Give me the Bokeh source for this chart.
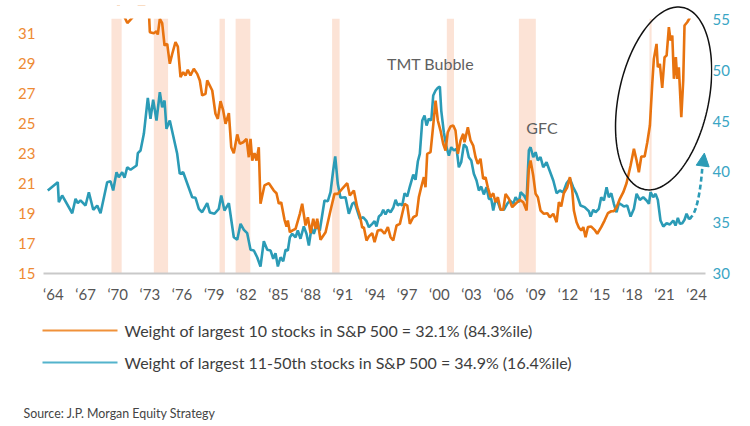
import numpy as np
from bokeh.plotting import figure
from bokeh.models import Range1d, LinearAxis, FixedTicker, Label, Arrow, NormalHead, PolyAnnotation
from bokeh.core.properties import value
from bokeh.embed import file_html
from bokeh.resources import INLINE

# ---------------- data ----------------
tick_years = [1964, 1967, 1970, 1973, 1976, 1979, 1982, 1985, 1988, 1991, 1994,
              1997, 2000, 2003, 2006, 2009, 2012, 2015, 2018, 2021, 2024]
tick_labels = ["\u201864", "\u201867", "\u201870", "\u201873", "\u201876", "\u201879", "\u201882",
               "\u201885", "\u201888", "\u201891", "\u201894", "\u201897", "\u201800", "\u201803",
               "\u201806", "\u201809", "\u201812", "\u201815", "\u201818", "\u201821", "\u201824"]
left_ticks = [15, 17, 19, 21, 23, 25, 27, 29, 31]
right_ticks = [30, 35, 40, 45, 50, 55]

rec_start = [1969.92, 1973.87, 1980.00, 1981.50, 1990.50, 2001.20, 2007.92, 2020.10]
rec_end = [1970.87, 1975.20, 1980.50, 1982.87, 1991.20, 2001.87, 2009.50, 2020.30]

blue_year = [
    1963.98, 1964.91, 1965.01, 1965.32, 1966.26, 1966.57, 1966.78, 1967.03, 1967.50, 1967.81,
    1968.22, 1968.59, 1968.90, 1969.52, 1969.83, 1970.08, 1970.39, 1970.60, 1970.92, 1971.14,
    1971.39, 1971.70, 1972.26, 1972.38, 1972.63, 1972.94, 1973.31, 1973.56, 1973.81, 1974.12,
    1974.43, 1974.65, 1974.87, 1975.05, 1975.36, 1976.05, 1976.29, 1976.61, 1977.45, 1977.76,
    1978.07, 1978.38, 1978.85, 1979.10, 1979.53, 1979.93, 1980.16, 1980.46, 1980.87, 1981.33,
    1981.65, 1981.96, 1982.27, 1982.58, 1982.89, 1983.20, 1983.51, 1983.82, 1984.13, 1984.45,
    1984.76, 1985.01, 1985.22, 1985.44, 1985.69, 1985.94, 1986.16, 1986.37, 1986.56, 1986.78,
    1987.09, 1987.30, 1987.55, 1987.86, 1988.11, 1988.33, 1988.58, 1988.79, 1989.05, 1989.35,
    1989.79, 1990.10, 1990.35, 1990.60, 1990.79, 1991.03, 1991.28, 1991.75, 1992.06, 1992.38,
    1992.59, 1993.09, 1993.40, 1993.71, 1993.93, 1994.24, 1994.46, 1994.64, 1994.86, 1995.08,
    1995.27, 1995.48, 1995.70, 1995.95, 1996.20, 1996.42, 1996.63, 1996.82, 1997.04, 1997.26,
    1997.51, 1997.75, 1998.07, 1998.28, 1998.50, 1998.68, 1998.91, 1999.12, 1999.31, 1999.52,
    1999.75, 1999.93, 2000.15, 2000.36, 2000.55, 2000.68, 2000.92, 2001.17, 2001.39, 2001.61,
    2001.86, 2002.11, 2002.32, 2002.54, 2002.79, 2003.04, 2003.25, 2003.48, 2003.72, 2003.97,
    2004.19, 2004.41, 2004.65, 2004.90, 2005.12, 2005.34, 2005.53, 2005.74, 2005.96, 2006.21,
    2006.52, 2006.83, 2007.08, 2007.40, 2007.61, 2007.92, 2008.08, 2008.39, 2008.64, 2008.85,
    2009.01, 2009.26, 2009.48, 2009.69, 2009.94, 2010.19, 2010.50, 2010.81, 2011.13, 2011.44,
    2011.74, 2012.06, 2012.37, 2012.68, 2012.99, 2013.30, 2013.67, 2014.05, 2014.45, 2014.61,
    2014.86, 2015.07, 2015.38, 2015.60, 2015.85, 2016.10, 2016.31, 2016.54, 2016.78, 2017.03,
    2017.25, 2017.47, 2017.71, 2018.03, 2018.34, 2018.65, 2018.90, 2019.20, 2019.52, 2019.83,
    2020.05, 2020.20, 2020.45, 2020.67, 2020.88, 2021.13, 2021.39, 2021.70, 2022.00, 2022.32,
    2022.53, 2022.75, 2022.94, 2023.16, 2023.37, 2023.56, 2023.78, 2024.00]
blue_val = [
    38.17, 38.99, 37.02, 37.68, 35.93, 37.35, 36.92, 37.19, 36.69, 38.00,
    36.27, 36.69, 35.93, 38.99, 39.08, 38.17, 39.97, 39.48, 39.97, 39.42,
    40.46, 40.21, 40.63, 41.84, 42.11, 43.75, 47.29, 45.23, 47.10, 45.06,
    47.84, 46.37, 47.03, 44.24, 45.06, 41.78, 39.81, 39.97, 37.51, 37.45,
    36.37, 36.03, 36.92, 36.00, 35.88, 36.37, 37.68, 36.20, 36.92, 33.57,
    33.32, 34.89, 34.30, 33.97, 32.33, 32.26, 31.60, 30.69, 33.18, 32.33,
    32.26, 31.45, 32.00, 30.69, 31.60, 31.21, 32.33, 32.26, 33.57, 33.91,
    33.57, 34.23, 33.42, 34.63, 33.91, 32.76, 34.50, 33.91, 34.72, 34.23,
    37.19, 37.12, 38.00, 40.14, 41.52, 38.83, 37.45, 37.51, 35.88, 36.86,
    37.02, 35.38, 35.54, 35.15, 34.56, 34.89, 35.15, 34.63, 35.61, 35.81,
    36.27, 35.81, 36.27, 36.03, 36.47, 37.25, 36.69, 36.86, 36.69, 37.90,
    37.58, 38.56, 39.74, 39.22, 41.05, 41.78, 45.06, 45.55, 44.57, 45.23,
    45.06, 47.52, 48.01, 48.28, 48.41, 46.04, 43.91, 42.43, 41.61, 42.43,
    42.11, 42.27, 40.46, 40.95, 42.70, 42.43, 41.45, 41.12, 39.81, 39.15,
    38.17, 38.56, 37.78, 38.49, 37.35, 37.35, 36.20, 37.25, 37.02, 36.27,
    36.27, 36.86, 37.19, 36.86, 37.51, 37.02, 38.00, 37.68, 37.19, 42.11,
    42.43, 41.45, 41.94, 41.12, 41.45, 40.46, 40.95, 40.07, 39.15, 37.90,
    38.17, 38.00, 38.89, 39.32, 38.49, 37.84, 36.69, 36.53, 36.13, 35.61,
    36.27, 36.03, 36.37, 37.51, 37.19, 38.49, 37.51, 37.90, 36.86, 36.03,
    36.92, 36.79, 36.59, 36.69, 35.61, 36.37, 37.84, 37.25, 37.51, 37.19,
    36.86, 38.00, 37.51, 37.84, 37.25, 35.22, 34.63, 34.95, 34.82, 35.22,
    34.72, 35.48, 34.89, 34.95, 35.29, 35.88, 35.38, 35.48]

orange_year = [
    1964.00, 1966.00, 1968.00, 1970.00, 1970.80, 1971.40, 1971.85, 1972.60, 1973.40, 1973.50,
    1973.87, 1974.12, 1974.24, 1974.43, 1974.65, 1974.87, 1975.12, 1975.36, 1975.59, 1975.89,
    1976.11, 1976.36, 1976.61, 1976.83, 1977.04, 1977.29, 1977.60, 1977.92, 1978.16, 1978.38,
    1978.69, 1978.85, 1979.32, 1979.62, 1979.84, 1980.09, 1980.34, 1980.56, 1980.87, 1981.09,
    1981.33, 1981.65, 1981.89, 1982.21, 1982.52, 1982.73, 1982.89, 1983.05, 1983.26, 1983.45,
    1983.66, 1983.82, 1984.19, 1984.60, 1985.06, 1985.31, 1985.53, 1985.75, 1986.06, 1986.25,
    1986.37, 1986.56, 1986.81, 1987.09, 1987.49, 1987.71, 1988.02, 1988.24, 1988.49, 1988.74,
    1988.95, 1989.11, 1989.42, 1989.89, 1990.35, 1990.72, 1991.03, 1991.35, 1991.91, 1992.15,
    1992.53, 1992.84, 1993.09, 1993.31, 1993.46, 1993.71, 1993.93, 1994.24, 1994.46, 1994.76,
    1995.08, 1995.39, 1995.70, 1995.95, 1996.20, 1996.51, 1996.82, 1997.04, 1997.26, 1997.51,
    1997.75, 1998.07, 1998.38, 1998.59, 1998.81, 1999.06, 1999.21, 1999.37, 1999.68, 1999.93,
    2000.15, 2000.36, 2000.61, 2000.86, 2001.08, 2001.29, 2001.54, 2001.80, 2002.01, 2002.23,
    2002.48, 2002.73, 2002.85, 2003.16, 2003.41, 2003.66, 2003.88, 2004.09, 2004.34, 2004.59,
    2004.81, 2005.02, 2005.28, 2005.53, 2005.74, 2005.96, 2006.21, 2006.46, 2006.68, 2006.99,
    2007.30, 2007.61, 2008.01, 2008.33, 2008.64, 2008.85, 2009.01, 2009.26, 2009.48, 2009.69,
    2009.94, 2010.25, 2010.57, 2010.81, 2011.13, 2011.44, 2011.65, 2011.87, 2012.11, 2012.43,
    2012.68, 2012.90, 2013.05, 2013.30, 2013.52, 2013.74, 2013.93, 2014.14, 2014.36, 2014.67,
    2014.98, 2015.23, 2015.60, 2015.91, 2016.22, 2016.54, 2016.78, 2017.03, 2017.34, 2017.66,
    2017.96, 2018.34, 2018.65, 2018.90, 2019.11, 2019.34, 2019.65, 2019.90, 2020.14, 2020.36,
    2020.51, 2020.76, 2020.88, 2021.07, 2021.29, 2021.51, 2021.70, 2021.91, 2022.07, 2022.23,
    2022.38, 2022.56, 2022.69, 2022.84, 2023.07, 2023.25, 2023.37, 2023.62, 2023.87]
orange_val = [
    34.00, 35.00, 34.00, 33.50, 32.60, 31.70, 32.05, 33.00, 32.60, 31.09,
    31.02, 31.15, 30.93, 31.98, 31.69, 30.20, 30.31, 28.98, 29.65, 30.42,
    30.13, 28.09, 28.42, 28.20, 28.58, 28.20, 28.65, 28.31, 27.87, 26.87,
    26.98, 27.87, 27.20, 25.65, 25.31, 26.49, 25.87, 24.98, 25.69, 23.42,
    23.02, 24.27, 23.65, 23.75, 23.98, 22.75, 23.98, 22.53, 23.02, 22.53,
    23.42, 19.65, 20.87, 21.02, 20.53, 20.35, 19.65, 19.75, 18.58, 18.13,
    18.53, 17.75, 17.87, 17.98, 18.98, 19.65, 18.20, 18.75, 17.69, 18.65,
    17.98, 18.65, 17.25, 17.75, 19.20, 20.31, 20.31, 20.58, 21.02, 20.20,
    20.53, 19.42, 18.87, 18.05, 18.09, 17.20, 17.47, 17.69, 17.09, 17.87,
    17.91, 17.65, 18.09, 17.42, 17.20, 18.20, 18.31, 18.98, 19.65, 19.53,
    18.31, 18.75, 18.87, 20.09, 20.75, 21.42, 20.75, 22.98, 23.09, 24.87,
    26.53, 25.20, 24.53, 23.65, 23.20, 24.42, 24.80, 24.87, 24.53, 22.98,
    23.87, 24.31, 23.75, 24.75, 23.87, 23.53, 22.75, 22.31, 22.65, 21.31,
    21.42, 20.75, 20.09, 20.35, 19.75, 20.09, 19.25, 19.25, 20.31, 19.98,
    19.42, 19.65, 19.91, 19.75, 19.20, 21.98, 22.53, 21.53, 20.31, 20.09,
    19.20, 18.98, 19.02, 18.75, 18.98, 18.42, 19.75, 19.47, 20.35, 20.75,
    21.42, 20.53, 19.20, 18.42, 18.05, 17.87, 18.09, 17.42, 18.09, 18.13,
    17.91, 17.65, 18.09, 18.53, 19.02, 19.15, 19.15, 19.42, 19.98, 20.42,
    21.02, 22.20, 23.31, 22.53, 21.75, 22.80, 22.80, 23.75, 24.87, 27.65,
    29.31, 30.31, 28.75, 28.98, 27.38, 29.42, 29.53, 31.42, 30.53, 30.87,
    27.98, 29.42, 27.98, 28.75, 25.42, 27.87, 31.53, 31.75, 32.05]

legend_labels = ["Weight of largest 10 stocks in S&P 500 = 32.1% (84.3%ile)",
                 "Weight of largest 11-50th stocks in S&P 500 = 34.9% (16.4%ile)"]
source_text = "Source: J.P. Morgan Equity Strategy"

# ---------------- style ----------------
ORANGE = "#E8730F"
TEAL = "#2B9BB6"
ORANGE_TXT = "#EE8A33"
TEAL_TXT = "#3AA5C4"
GRAY_TXT = "#555555"
REC = "#FCE3D6"
FONT = "Lato"

# left axis shown 15..32; a little headroom above for the highlight ellipse
X0, X1, X_AXIS_END = 1963.58, 2025.98, 2025.33
Y0, Y_SHOWN, Y1 = 15, 32, 32.867
R0, R1 = 30, 56.38

p = figure(width=742, height=310, output_backend="svg", toolbar_location=None,
           x_range=Range1d(X0, X1), y_range=Range1d(Y0, Y1),
           min_border_left=43, min_border_right=30, min_border_top=5, min_border_bottom=37,
           outline_line_color=None, background_fill_color="white", border_fill_color="white")
p.extra_y_ranges = {"right": Range1d(R0, R1)}
p.xgrid.grid_line_color = None
p.ygrid.grid_line_color = None

# recession bars
p.quad(left=rec_start, right=rec_end, bottom=Y0, top=Y_SHOWN, fill_color=REC, line_color=None)

# series
p.line(blue_year, blue_val, y_range_name="right", line_color=TEAL, line_width=2.6)
p.line(orange_year, orange_val, line_color=ORANGE, line_width=2.6)

# white band above the plotted area (values beyond the chart's top are cut off)
p.quad(left=X0 - 1, right=X1 + 1, bottom=Y_SHOWN, top=Y1 + 3, fill_color="white", line_color=None)

# axes
xa = p.xaxis[0]
tick_pos = [y + 0.5 for y in tick_years]
xa.ticker = FixedTicker(ticks=tick_pos)
xa.major_label_overrides = {t: lab for t, lab in zip(tick_pos, tick_labels)}
xa.bounds = (X0, X_AXIS_END)
xa.axis_line_color = "#C9C9C9"
xa.axis_line_width = 2
xa.major_tick_line_color = None
xa.minor_tick_line_color = None
xa.major_tick_out = 0
xa.minor_tick_out = 0
xa.major_label_standoff = 11
xa.major_label_text_font = FONT
xa.major_label_text_font_size = "15px"
xa.major_label_text_color = GRAY_TXT

ya = p.yaxis[0]
ya.ticker = FixedTicker(ticks=left_ticks)
ya.axis_line_color = None
ya.major_tick_line_color = None
ya.minor_tick_line_color = None
ya.major_tick_out = 0
ya.minor_tick_out = 0
ya.major_label_standoff = 8
ya.major_label_text_font = FONT
ya.major_label_text_font_size = "15px"
ya.major_label_text_color = ORANGE_TXT

ra = LinearAxis(y_range_name="right", ticker=FixedTicker(ticks=right_ticks))
ra.axis_line_color = None
ra.major_tick_line_color = None
ra.minor_tick_line_color = None
ra.major_tick_out = 0
ra.minor_tick_out = 0
ra.major_label_standoff = 0
ra.major_label_text_font = FONT
ra.major_label_text_font_size = "15px"
ra.major_label_text_color = TEAL_TXT
p.add_layout(ra, "right")

# annotations
p.add_layout(Label(x=1999.68, y=29.0, text="TMT Bubble", text_align="center", text_baseline="middle",
                   text_font=FONT, text_font_size="16px", text_color="#606060"))
p.add_layout(Label(x=2010.08, y=24.73, text="GFC", text_align="center", text_baseline="middle",
                   text_font=FONT, text_font_size="16px", text_color="#606060"))

# ellipse highlighting recent concentration (pixel semi-axes converted to data units)
px_x = 1 / 10.72
px_y = 1 / 15.0
t = np.linspace(0, 2 * np.pi, 160)
a_px, b_px, phi = 93.0, 45.0, np.deg2rad(12)
ex = b_px * np.cos(t)
ey = a_px * np.sin(t)
rx = ex * np.cos(phi) + ey * np.sin(phi)
ry = -ex * np.sin(phi) + ey * np.cos(phi)
p.add_layout(PolyAnnotation(xs=list(2021.42 + rx * px_x), ys=list(26.67 + ry * px_y),
                            fill_color=None, fill_alpha=0, line_color="#111111",
                            line_alpha=1.0, line_width=1.5))

# dashed arrow
p.bezier(x0=[2023.78], y0=[35.4], x1=[2025.02], y1=[40.3], cx0=[2024.45], cy0=[35.6],
         cx1=[2024.85], cy1=[38.0], y_range_name="right",
         line_color=TEAL, line_width=2.6, line_dash="5 3")
p.add_layout(Arrow(end=NormalHead(size=13, fill_color=TEAL, line_color=TEAL, line_width=1),
                   x_start=2024.98, y_start=39.9, x_end=2025.22, y_end=41.85,
                   y_range_name="right", line_alpha=0))

# ---------------- legend + source strip (separate root, pixel-like ranges) ----------------
LEG_H = 114
leg = figure(width=742, height=LEG_H, output_backend="svg", toolbar_location=None,
             x_range=Range1d(0, 742), y_range=Range1d(0, LEG_H),
             x_axis_type=None, y_axis_type=None, min_border=0,
             min_border_left=0, min_border_right=0, min_border_top=0, min_border_bottom=0,
             outline_line_color=None, background_fill_color="white", border_fill_color="white")
leg.xgrid.grid_line_color = None
leg.ygrid.grid_line_color = None
leg.segment(x0=[42, 42], y0=[94, 62], x1=[117, 117], y1=[94, 62],
            line_color=["#F0913A", "#53B3CC"], line_width=2)
leg.text(x=[124, 124], y=[94, 62], text=legend_labels, text_baseline="middle",
         text_font=value(FONT), text_font_size=value("16px"), text_color="#3D3D3D")
leg.text(x=[23], y=[11], text=[source_text], text_baseline="middle",
         text_font=value(FONT), text_font_size=value("12.4px"), text_color="#444444")

open("out.html", "w").write(file_html([p, leg], INLINE))
